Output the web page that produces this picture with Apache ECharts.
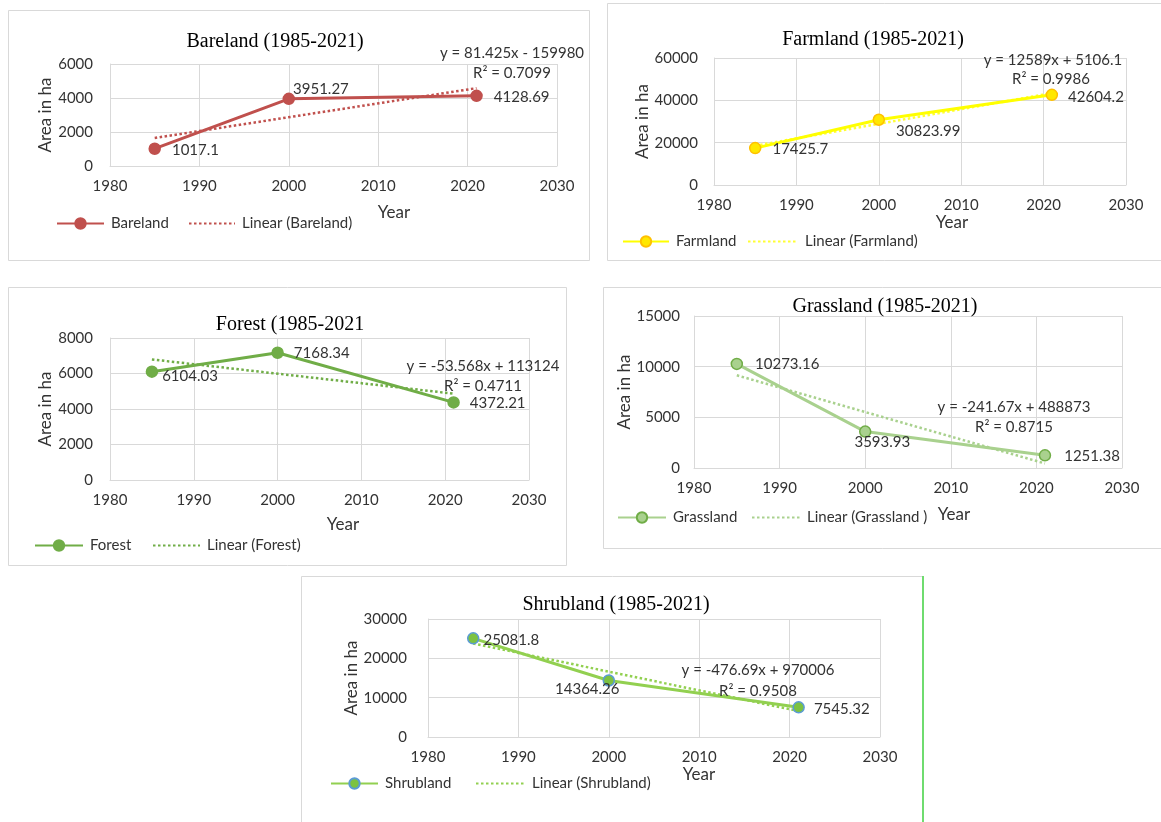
<!DOCTYPE html>
<html>
<head>
<meta charset="utf-8">
<script src="https://cdn.jsdelivr.net/npm/echarts@6/dist/echarts.min.js"></script>
<style>
  html, body { margin: 0; padding: 0; background: #ffffff; }
  #chart { width: 1161px; height: 822px; }
</style>
</head>
<body>
<div id="chart"></div>
<script>
// Land-cover area (ha) per class, observed in three years
const years = [1985, 2000, 2021];
const bareland = [1017.1, 3951.27, 4128.69];
const farmland = [17425.7, 30823.99, 42604.2];
const forest = [6104.03, 7168.34, 4372.21];
const grassland = [10273.16, 3593.93, 1251.38];
const shrubland = [25081.8, 14364.26, 7545.32];

// Linear trend lines: end values at the first and last year
const trendYears = [1985, 2021];
const barelandTrend = [1649, 4580];
const farmlandTrend = [18546, 43404];
const forestTrend = [6792, 4864];
const grasslandTrend = [9148, 448];
const shrublandTrend = [23768, 6607];

// Trend equations and fit quality
const equations = ['y = 81.425x - 159980', 'y = 12589x + 5106.1', 'y = -53.568x + 113124', 'y = -241.67x + 488873', 'y = -476.69x + 970006'];
const rSquared = ['R\u00b2 = 0.7099', 'R\u00b2 = 0.9986', 'R\u00b2 = 0.4711', 'R\u00b2 = 0.8715', 'R\u00b2 = 0.9508'];

// Axis ranges
const yearMin = 1980, yearMax = 2030, yearStep = 10;
const yMaxes = [6000, 60000, 8000, 15000, 30000];
const ySteps = [2000, 20000, 2000, 5000, 10000];

const titles = ['Bareland (1985-2021)', 'Farmland (1985-2021)', 'Forest (1985-2021', 'Grassland (1985-2021)', 'Shrubland (1985-2021)'];
const seriesNames = ['Bareland', 'Farmland', 'Forest', 'Grassland', 'Shrubland'];
const trendNames = ['Linear (Bareland)', 'Linear (Farmland)', 'Linear (Forest)', 'Linear (Grassland )', 'Linear (Shrubland)'];
const values = [bareland, farmland, forest, grassland, shrubland];
const trends = [barelandTrend, farmlandTrend, forestTrend, grasslandTrend, shrublandTrend];

const SANS = 'Lato, "Liberation Sans", sans-serif';
const SERIF = '"Liberation Serif", "Times New Roman", serif';
const TXT = '#333333';

// Layout and styling of each panel
const panels = [
  { grid: [110, 64, 447, 102], box: [8, 10, 581, 250], title: [270, 27],
    line: '#c0504d', markFill: '#c0504d', markBorder: '#c0504d', trend: '#c0504d',
    yLabelMargin: 17, yNameGap: 51, yearPad: 121, yearGap: 38,
    labelOffsets: [[11, 1], [-2, -10], [11, 1]],
    eq: [512, 53], r2: [512, 73],
    legend: [[56, 223, 47], [188, 223, 46]] },
  { grid: [714, 58, 412, 127], box: [607, 3, 560, 257], title: [868, 25],
    line: '#ffff00', markFill: '#ffe800', markBorder: '#ffc000', trend: '#ffff33',
    yLabelMargin: 16, yNameGap: 58, yearPad: 64, yearGap: 26,
    labelOffsets: [[11, 1], [11, 11], [10, 2]],
    eq: [1053, 60], r2: [1051, 79],
    legend: [[622, 241, 46], [747, 241, 50]] },
  { grid: [110, 338, 419, 142], box: [8, 287, 558, 278], title: [285, 310],
    line: '#70ad47', markFill: '#70ad47', markBorder: '#70ad47', trend: '#70ad47',
    yLabelMargin: 17, yNameGap: 50, yearPad: 47, yearGap: 36,
    labelOffsets: [[4, 5], [10, 0], [10, 1]],
    eq: [483, 366], r2: [483, 386],
    legend: [[34, 545, 48], [152, 545, 47]] },
  { grid: [694, 316, 428, 152], box: [603, 287, 565, 261], title: [880, 292],
    line: '#a9d18e', markFill: '#a9d18e', markBorder: '#70ad47', trend: '#a9d18e',
    yLabelMargin: 14, yNameGap: 56, yearPad: 92, yearGap: 38,
    labelOffsets: [[12, 0], [-17, 11], [13, 1]],
    eq: [1014, 407], r2: [1014, 427],
    legend: [[617, 517, 48], [751, 517, 48]] },
  { grid: [428, 619, 452, 118], box: [301, 576, 622, 260], title: [611, 590],
    line: '#92d050', markFill: '#7cc242', markBorder: '#5b9bd5', trend: '#92d050',
    yLabelMargin: 21, yNameGap: 64, yearPad: 90, yearGap: 28,
    labelOffsets: [[4, 2], [-60, 9], [9, 2]],
    eq: [758, 670], r2: [758, 691],
    legend: [[330, 783, 47], [475, 783, 49]] }
];

const option = {
  backgroundColor: '#ffffff',
  animation: false,
  title: [], grid: [], xAxis: [], yAxis: [], series: [], legend: [], graphic: []
};

panels.forEach((p, i) => {
  // panel frame
  option.graphic.push({
    type: 'rect', silent: true, z: -10,
    shape: { x: p.box[0] + 0.5, y: p.box[1] + 0.5, width: p.box[2], height: p.box[3] },
    style: { fill: 'none', stroke: '#d9d9d9', lineWidth: 1 }
  });

  option.title.push({
    text: titles[i], left: p.title[0], top: p.title[1], textAlign: 'center',
    textStyle: { fontFamily: SERIF, fontSize: 20, fontWeight: 'normal', color: '#000000' }
  });

  option.grid.push({ left: p.grid[0], top: p.grid[1], width: p.grid[2], height: p.grid[3], containLabel: false });

  option.xAxis.push({
    type: 'value', gridIndex: i, min: yearMin, max: yearMax, interval: yearStep,
    name: 'Year', nameLocation: 'middle', nameGap: p.yearGap,
    nameTextStyle: { fontFamily: SANS, fontSize: 17, color: TXT, padding: [0, 0, 0, p.yearPad] },
    axisLine: { show: true, lineStyle: { color: '#d9d9d9', width: 1 } },
    axisTick: { show: false },
    axisLabel: { fontFamily: SANS, fontSize: 15, color: TXT, margin: 13, formatter: (v) => String(v) },
    splitLine: { show: true, lineStyle: { color: '#d9d9d9', width: 1 } }
  });

  option.yAxis.push({
    type: 'value', gridIndex: i, min: 0, max: yMaxes[i], interval: ySteps[i],
    name: 'Area in ha', nameLocation: 'middle', nameGap: p.yNameGap, nameRotate: 90,
    nameTextStyle: { fontFamily: SANS, fontSize: 17, color: TXT },
    axisLine: { show: true, lineStyle: { color: '#d9d9d9', width: 1 } },
    axisTick: { show: false },
    axisLabel: { fontFamily: SANS, fontSize: 15, color: TXT, margin: p.yLabelMargin, formatter: (v) => String(v) },
    splitLine: { show: true, lineStyle: { color: '#d9d9d9', width: 1 } }
  });

  // observed values with data labels
  option.series.push({
    name: seriesNames[i], type: 'line', xAxisIndex: i, yAxisIndex: i,
    data: years.map((yr, k) => ({
      value: [yr, values[i][k]],
      label: { offset: p.labelOffsets[k] }
    })),
    symbol: 'circle', symbolSize: 11,
    lineStyle: { color: p.line, width: 3 },
    itemStyle: { color: p.markFill, borderColor: p.markBorder, borderWidth: 1.5 },
    label: {
      show: true, position: 'right', distance: 0,
      fontFamily: SANS, fontSize: 15, color: TXT,
      formatter: (d) => String(d.value[1])
    },
    z: 3
  });

  // linear trend line
  option.series.push({
    name: trendNames[i], type: 'line', xAxisIndex: i, yAxisIndex: i,
    data: trendYears.map((yr, k) => [yr, trends[i][k]]),
    symbol: 'none', showSymbol: false,
    lineStyle: { color: p.trend, width: 2.5, type: [2.5, 2.5] },
    itemStyle: { color: p.trend },
    z: 2
  });

  // legend entries
  [seriesNames[i], trendNames[i]].forEach((nm, k) => {
    const entry = {
      data: [nm], left: p.legend[k][0], top: p.legend[k][1] - 7,
      itemWidth: p.legend[k][2], itemHeight: 13, padding: 0, itemGap: 0,
      textStyle: { fontFamily: SANS, fontSize: 15, color: TXT, padding: [0, 0, 0, 2] },
      selectedMode: false
    };
    if (k === 1) {
      // trend entry: dotted line only, no marker
      entry.itemStyle = { color: 'rgba(0,0,0,0)', borderWidth: 0 };
    }
    option.legend.push(entry);
  });

  // trend equation and R squared
  [[equations[i], p.eq], [rSquared[i], p.r2]].forEach(([txt, pos]) => {
    option.graphic.push({
      type: 'text', silent: true, x: pos[0], y: pos[1],
      style: { text: txt, fontFamily: SANS, fontSize: 15, fill: TXT, align: 'center', verticalAlign: 'middle' },
      z: 10
    });
  });
});

// green frame edge on the bottom panel
option.graphic.push({
  type: 'line', silent: true, z: -9,
  shape: { x1: 923, y1: 576, x2: 923, y2: 822 },
  style: { stroke: '#6fdc6f', lineWidth: 2 }
});

const chart = echarts.init(document.getElementById('chart'), null, { renderer: 'canvas' });
chart.setOption(option);
</script>
</body>
</html>
